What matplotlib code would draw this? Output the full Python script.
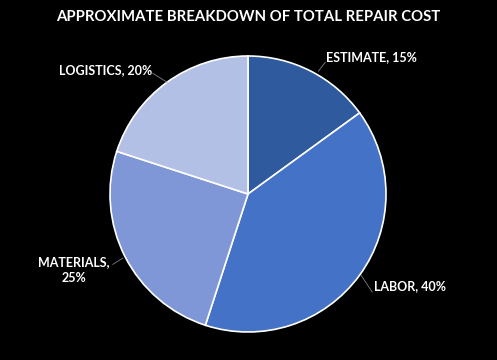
import numpy as np
import matplotlib
matplotlib.use('Agg')
import matplotlib.pyplot as plt

# --- datos ---
categorias = ['ESTIMATE', 'LABOR', 'MATERIALS', 'LOGISTICS']
valores = [15, 40, 25, 20]
colores = ['#2F5A9E', '#4472C6', '#7F97D7', '#B3C0E6']

# etiquetas (unidades del eje, radio 1)
pos_texto = [(0.565, 0.99), (0.913, -0.667), (-1.26, -0.55), (-1.03, 0.90)]
ha_texto = ['left', 'left', 'center', 'center']
# lineas guia: (inicio, fin)
lineas = [((0.51, 0.89), (0.56, 0.955)),
          ((0.82, -0.59), (0.90, -0.71)),
          ((-0.906, -0.464), (-0.98, -0.51)),
          ((-0.587, 0.81), (-0.69, 0.875))]

plt.rcParams['font.family'] = ['Lato', 'DejaVu Sans']

fig = plt.figure(figsize=(4.97, 3.60), dpi=100, facecolor='black')
cx, cy, r = 248, 194, 138
ax = fig.add_axes([(cx - r) / 497, (360 - cy - r) / 360, 2 * r / 497, 2 * r / 360])
ax.set_facecolor('black')

ax.pie(valores, colors=colores, startangle=90, counterclock=False,
       wedgeprops=dict(edgecolor='white', linewidth=1.2), radius=1)
ax.set_xlim(-1, 1)
ax.set_ylim(-1, 1)
ax.set_aspect('equal')
ax.axis('off')

for i, cat in enumerate(categorias):
    if cat == 'MATERIALS':
        txt = f'{cat},\n{valores[i]}%'
    else:
        txt = f'{cat}, {valores[i]}%'
    ax.text(pos_texto[i][0], pos_texto[i][1], txt, color='white', fontsize=9,
            fontweight='bold', ha=ha_texto[i], va='center', linespacing=1.45,
            clip_on=False)
    (x0, y0), (x1, y1) = lineas[i]
    ax.plot([x0, x1], [y0, y1], color='#7F7F7F', lw=0.6, clip_on=False)

fig.text(0.5, 1 - 17 / 360, 'APPROXIMATE BREAKDOWN OF TOTAL REPAIR COST',
         color='white', fontsize=10.7, fontweight='bold', ha='center', va='center')

fig.savefig('out.png', dpi=100, facecolor='black')
